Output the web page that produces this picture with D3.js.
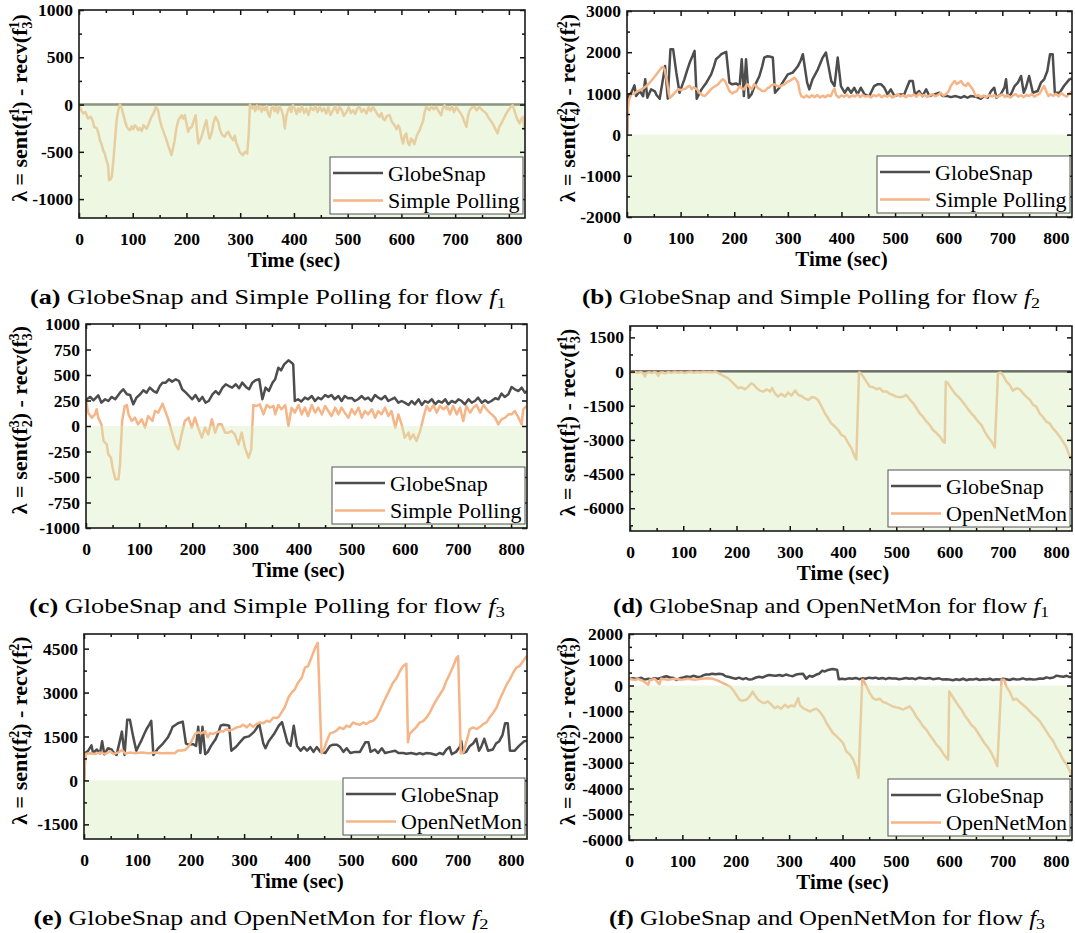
<!DOCTYPE html>
<html><head><meta charset="utf-8">
<script src="https://cdn.jsdelivr.net/npm/d3@7"></script>
<style>body{margin:0;background:#fff}svg{display:block}</style>
</head><body>
<svg id="chart" width="1075" height="933"></svg>
<script>
// ---------------- data ----------------
const xTicks = [0,100,200,300,400,500,600,700,800];
const xMinor = [50,150,250,350,450,550,650,750];
const seriesNamesSP = ["GlobeSnap","Simple Polling"];
const seriesNamesONM = ["GlobeSnap","OpenNetMon"];

// GlobeSnap for flow f1: flat zero
const GS_F1 = [[0,0],[830,0]];

// GlobeSnap flow f2 (panels b and e)
const GS_F2 = [[0,0],[2,935],[8,1016],[14,1195],[17,935],[24,1057],[30,930],[34,1341],[38,894],[45,1098],[52,1050],[55,960],[61,870],[67,1341],[71,1667],[76,870],[81,2073],[86,2073],[92,1504],[98,1016],[103,1200],[107,1341],[112,1550],[117,1748],[122,1900],[126,2033],[130,870],[135,1000],[139,1098],[148,1260],[157,1463],[162,1650],[166,1829],[172,1900],[176,1951],[185,2008],[191,1260],[196,1220],[204,1240],[210,1179],[214,1829],[218,935],[222,1829],[227,894],[232,975],[238,1179],[247,1423],[252,1650],[256,1870],[261,1900],[266,1894],[272,1870],[276,1016],[285,1150],[294,1341],[300,1463],[309,1504],[315,1600],[319,1667],[324,1800],[328,1951],[336,1260],[340,1098],[346,1341],[356,1585],[365,1870],[371,1992],[376,1650],[381,1301],[387,1179],[393,1870],[399,1179],[406,1016],[412,1138],[418,1016],[424,1138],[430,975],[436,1138],[443,975],[452,935],[461,1179],[467,1220],[474,1220],[480,1138],[486,975],[492,1098],[499,935],[508,975],[517,975],[527,1301],[533,1301],[537,975],[545,1057],[551,935],[558,1098],[564,935],[573,975],[583,1016],[589,935],[598,935],[604,910],[613,935],[623,894],[629,935],[635,894],[641,935],[650,920],[660,870],[666,935],[673,894],[679,1057],[685,1138],[689,894],[697,975],[704,1138],[707,1341],[710,935],[716,975],[723,1179],[729,1260],[735,1423],[740,1016],[744,1138],[750,1423],[757,1016],[766,1057],[772,1260],[778,1341],[784,1545],[789,1951],[794,1951],[798,1016],[807,1016],[815,1179],[825,1341],[830,1360]];

// GlobeSnap flow f3 (panels c and f)
const GS_F3 = [[0,250],[1,262],[8,285],[14,252],[23,301],[29,229],[36,262],[42,245],[48,285],[55,262],[64,327],[70,360],[77,311],[83,304],[89,213],[95,278],[102,311],[108,350],[114,327],[120,376],[127,343],[133,327],[139,392],[144,425],[150,425],[156,458],[162,435],[169,458],[175,441],[181,360],[188,327],[194,294],[200,262],[206,304],[213,245],[219,285],[225,229],[231,245],[238,311],[244,343],[250,311],[257,376],[263,409],[269,392],[275,376],[282,409],[288,370],[294,425],[301,383],[307,360],[313,425],[319,448],[326,458],[332,262],[338,376],[344,343],[351,425],[356,458],[362,572],[367,546],[373,605],[381,644],[387,621],[390,605],[393,245],[399,262],[405,240],[412,278],[418,262],[425,294],[431,245],[437,278],[443,262],[450,304],[456,285],[462,304],[468,262],[475,294],[481,245],[487,294],[493,272],[500,275],[506,245],[512,262],[519,294],[525,262],[531,278],[537,245],[544,304],[550,278],[556,262],[563,294],[569,245],[575,262],[581,278],[588,229],[594,245],[600,229],[607,206],[613,245],[619,213],[626,262],[632,206],[638,245],[644,229],[651,262],[657,213],[663,245],[670,229],[676,262],[682,213],[688,245],[695,229],[701,262],[707,245],[713,213],[720,262],[726,229],[732,245],[738,278],[745,229],[751,252],[757,229],[763,245],[770,272],[776,262],[782,317],[788,285],[795,311],[801,383],[807,360],[814,343],[820,376],[826,327],[830,343]];

// Simple Polling flow f1 (panel a)
const SP_F1 = [[0,0],[4,-60],[8,-95],[12,-80],[17,-148],[22,-130],[26,-180],[28,-236],[33,-250],[36,-300],[39,-377],[42,-420],[45,-482],[48,-520],[51,-588],[54,-640],[56,-800],[59,-790],[61,-764],[64,-588],[67,-380],[70,-165],[73,-60],[76,0],[79,-30],[82,-95],[86,-180],[89,-236],[92,-260],[95,-271],[98,-230],[101,-260],[104,-220],[107,-236],[110,-270],[113,-250],[117,-280],[120,-218],[123,-240],[126,-253],[130,-200],[135,-130],[139,-90],[143,-25],[147,-60],[150,-150],[154,-236],[158,-300],[163,-377],[167,-450],[172,-535],[175,-460],[178,-377],[181,-260],[185,-165],[188,-140],[191,-113],[194,-150],[197,-113],[200,-200],[203,-289],[206,-250],[210,-236],[213,-180],[217,-113],[220,-300],[222,-412],[225,-380],[228,-341],[232,-260],[237,-165],[240,-280],[243,-359],[247,-300],[250,-200],[254,-130],[257,-160],[259,-183],[262,-260],[265,-306],[268,-330],[271,-341],[275,-300],[278,-289],[282,-340],[287,-377],[290,-330],[293,-412],[296,-450],[299,-500],[302,-520],[305,-535],[309,-500],[313,-517],[316,-300],[318,0],[322,-40],[325,-20],[328,-70],[331,-10],[334,-50],[337,-20],[340,-75],[343,-30],[346,-60],[349,-15],[352,-100],[355,-130],[358,-40],[361,-20],[364,-70],[367,-30],[370,-90],[373,-20],[377,-60],[380,-120],[383,-253],[386,-120],[389,-60],[392,-30],[395,-80],[398,-7],[402,-50],[405,-100],[408,-40],[411,-77],[415,-20],[419,-90],[423,-42],[427,-110],[431,-30],[436,-60],[440,-20],[444,-80],[448,-25],[452,-70],[456,-40],[460,-95],[464,-30],[468,-110],[473,-60],[477,-20],[481,-90],[485,-25],[489,-60],[493,-120],[498,-77],[502,-30],[506,-90],[510,-60],[514,-100],[518,-40],[522,-25],[526,-80],[530,-50],[535,-95],[539,-30],[543,-70],[547,-25],[551,-60],[555,-100],[559,-130],[563,-90],[566,-150],[569,-165],[573,-120],[578,-113],[582,-180],[587,-218],[591,-260],[594,-220],[597,-253],[600,-350],[603,-412],[606,-330],[609,-306],[612,-400],[615,-430],[618,-360],[621,-377],[624,-420],[628,-341],[631,-300],[634,-271],[637,-220],[640,-183],[643,-90],[646,-25],[649,-40],[652,-60],[656,-20],[660,-50],[665,-25],[669,-70],[674,-113],[677,-40],[680,-7],[684,-50],[687,-30],[690,-60],[694,-20],[698,-80],[702,-25],[706,-60],[710,-90],[714,-130],[717,-180],[721,-236],[724,-120],[727,-60],[731,-30],[736,-25],[740,-60],[745,-25],[749,-50],[753,-70],[758,-95],[762,-140],[766,-170],[770,-200],[774,-250],[779,-306],[782,-240],[786,-200],[789,-165],[792,-130],[795,-95],[799,-60],[803,-30],[807,-7],[810,-60],[813,-113],[816,-160],[820,-200],[823,-150],[826,-130],[829,-271]];

// Simple Polling flow f2 (panel b)
const SP_F2 = [[0,0],[2,700],[4,850],[8,975],[14,1000],[20,1057],[27,1098],[32,1140],[36,1179],[41,1240],[45,1301],[50,1380],[55,1463],[60,1550],[64,1626],[67,1640],[70,1585],[73,1400],[75,1260],[78,1000],[80,894],[84,940],[88,1000],[92,1057],[96,1100],[100,1080],[105,1100],[110,1120],[114,1170],[117,1179],[121,1100],[124,1150],[128,1120],[132,1080],[135,1016],[140,960],[145,935],[150,1000],[155,1080],[160,1138],[165,1180],[170,1220],[175,1300],[179,1341],[183,1300],[187,1180],[191,1057],[196,1000],[200,1030],[205,1057],[210,1179],[214,1120],[218,1098],[222,1180],[225,1220],[229,1150],[233,1098],[237,1220],[241,1180],[244,1130],[248,1100],[252,1060],[257,1057],[262,1130],[266,1150],[270,1200],[275,1220],[280,1180],[285,1165],[290,1200],[294,1220],[299,1280],[303,1301],[308,1340],[312,1382],[316,1330],[319,1260],[322,1050],[325,935],[330,900],[335,950],[340,900],[345,955],[350,910],[355,960],[360,900],[365,945],[370,905],[375,960],[380,930],[384,1050],[387,1114],[390,960],[395,900],[400,950],[405,920],[410,970],[415,905],[420,950],[425,925],[430,975],[435,910],[440,960],[445,920],[450,945],[455,900],[460,960],[465,930],[470,975],[475,905],[480,950],[485,920],[490,960],[495,900],[500,940],[505,985],[510,925],[515,960],[520,905],[525,955],[530,935],[535,975],[540,920],[545,1000],[550,940],[555,960],[560,915],[565,950],[570,985],[575,930],[580,960],[585,1010],[590,945],[595,980],[600,1050],[604,1179],[608,1250],[611,1301],[615,1230],[619,1260],[623,1301],[627,1220],[632,1179],[636,1250],[640,1180],[645,1098],[648,1010],[651,935],[655,960],[660,910],[665,945],[670,900],[675,960],[680,925],[685,955],[690,905],[695,945],[700,975],[705,915],[710,960],[715,900],[720,950],[725,980],[730,920],[735,955],[740,910],[745,965],[750,935],[755,985],[760,920],[765,960],[770,1000],[774,1100],[778,1179],[782,1050],[786,935],[790,980],[795,940],[800,990],[805,930],[810,1010],[815,955],[820,920],[825,1000],[830,1057]];

// Simple Polling flow f3 (panel c)
const SP_F3 = [[0,240],[1,229],[4,131],[11,82],[17,114],[20,164],[23,82],[29,16],[33,-147],[39,-180],[42,-278],[47,-311],[50,-409],[53,-474],[55,-523],[61,-523],[64,-376],[68,49],[73,196],[77,206],[80,114],[86,49],[92,82],[98,16],[105,65],[111,-16],[117,98],[125,49],[130,147],[136,131],[144,219],[149,147],[155,65],[161,-49],[168,-180],[174,-229],[180,-82],[186,49],[193,82],[199,-16],[205,82],[211,-16],[218,-114],[224,-16],[230,-82],[237,65],[243,-65],[249,16],[255,16],[262,-65],[268,-65],[274,-49],[280,-82],[287,-180],[293,-65],[299,-212],[306,-311],[311,-229],[315,206],[321,196],[327,213],[334,114],[340,206],[346,180],[353,196],[356,114],[362,206],[368,164],[375,206],[381,0],[387,180],[393,131],[400,206],[406,114],[412,180],[418,98],[425,206],[431,131],[437,180],[444,114],[450,196],[456,147],[462,98],[469,180],[475,114],[481,180],[487,131],[494,82],[500,164],[506,114],[513,180],[519,82],[525,147],[531,114],[538,164],[544,82],[550,147],[556,114],[563,180],[569,98],[575,147],[582,-16],[588,114],[594,16],[600,-114],[607,-65],[610,-131],[616,-82],[622,-147],[629,-49],[635,82],[641,196],[647,147],[654,206],[660,131],[666,196],[673,164],[679,196],[685,114],[691,196],[698,114],[704,180],[710,49],[716,196],[723,131],[729,180],[735,206],[742,131],[748,206],[754,164],[760,131],[770,82],[776,16],[782,65],[789,82],[795,114],[801,114],[807,147],[814,82],[820,16],[823,164],[829,196]];

// OpenNetMon flow f1 (panel d)
const ONM_F1 = [[0,0],[5,-40],[10,-20],[15,-60],[20,-10],[25,-80],[28,-220],[31,-60],[36,-30],[41,-70],[46,-20],[50,-60],[53,-190],[56,-50],[61,-30],[66,-80],[72,-20],[78,-60],[84,-10],[90,-50],[96,-20],[102,-60],[108,-30],[114,-10],[120,-50],[126,-20],[132,-40],[138,-10],[144,-30],[150,-20],[155,-40],[160,0],[166,-70],[172,-147],[178,-220],[184,-293],[191,-440],[197,-586],[203,-733],[209,-690],[216,-780],[222,-660],[228,-513],[233,-590],[238,-733],[244,-836],[250,-880],[257,-780],[263,-880],[267,-730],[272,-953],[278,-1100],[284,-980],[291,-1100],[297,-920],[303,-1060],[310,-836],[316,-1030],[322,-1070],[328,-1173],[335,-1246],[341,-1130],[347,-1140],[353,-1246],[360,-1539],[366,-1832],[372,-2052],[378,-2272],[385,-2419],[391,-2566],[397,-2785],[403,-2860],[410,-3152],[416,-3372],[422,-3738],[425,-3856],[430,-44],[432,-44],[438,-220],[444,-440],[450,-660],[457,-690],[463,-777],[469,-730],[475,-880],[482,-880],[488,-982],[494,-1030],[500,-1100],[507,-1130],[513,-1100],[519,-1026],[525,-1217],[532,-1393],[538,-1613],[544,-1832],[550,-1980],[557,-2199],[563,-2350],[569,-2566],[576,-2710],[582,-2859],[588,-3079],[591,-3123],[593,-440],[597,-510],[603,-733],[610,-953],[616,-1100],[622,-1246],[629,-1466],[635,-1660],[641,-1832],[647,-1980],[654,-2199],[660,-2350],[666,-2639],[672,-2860],[679,-3079],[685,-3328],[691,-73],[696,-44],[700,-147],[707,-440],[713,-586],[719,-836],[726,-730],[732,-780],[738,-953],[744,-1100],[751,-1246],[757,-1466],[763,-1540],[769,-1832],[775,-1980],[782,-2199],[788,-2270],[794,-2492],[800,-2640],[807,-2859],[813,-3079],[819,-3298],[826,-3738],[829,-3856]];

// OpenNetMon flow f2 (panel e)
const ONM_F2 = [[0,0],[3,906],[11,930],[21,906],[30,950],[40,906],[49,996],[55,906],[64,950],[71,1041],[77,920],[86,950],[96,928],[108,950],[121,928],[133,950],[146,928],[158,940],[170,928],[176,1020],[183,1020],[189,1041],[195,1132],[202,1358],[208,1585],[214,1641],[220,1610],[227,1675],[232,1472],[236,1610],[242,1585],[248,1641],[255,1675],[261,1675],[267,1755],[273,1700],[280,1755],[286,1811],[292,1830],[298,1902],[305,1811],[311,1924],[317,1830],[323,1924],[330,1981],[336,1950],[342,2038],[348,2000],[355,2151],[361,2130],[365,2173],[370,2321],[376,2490],[383,2830],[389,3000],[395,3113],[401,3339],[408,3509],[414,3849],[420,3905],[426,4188],[433,4528],[438,4698],[445,928],[450,1080],[454,1302],[461,1607],[467,1641],[473,1698],[479,1811],[486,1755],[492,1868],[498,1830],[504,1981],[511,1924],[517,1902],[523,1981],[529,1924],[536,2015],[542,2038],[548,2151],[554,2377],[561,2660],[567,2887],[573,3113],[579,3339],[586,3509],[592,3736],[598,3905],[604,3985],[607,1302],[610,1585],[617,1721],[623,1830],[629,1981],[635,2015],[642,2151],[648,2321],[654,2547],[660,2739],[667,2943],[673,3113],[679,3396],[685,3622],[692,3905],[698,4188],[701,4245],[706,928],[711,960],[717,1358],[723,1755],[729,1811],[736,1755],[742,1830],[748,1924],[754,1981],[760,2151],[767,2321],[773,2490],[779,2773],[785,3000],[792,3283],[798,3453],[804,3679],[810,3849],[816,3905],[823,4075],[829,4245]];

// OpenNetMon flow f3 (panel f)
const ONM_F3 = [[0,258],[11,219],[17,258],[26,180],[36,26],[39,219],[48,258],[57,52],[60,258],[73,219],[85,258],[98,219],[110,258],[123,219],[135,258],[148,284],[157,258],[163,219],[170,155],[176,90],[183,26],[189,-39],[195,-168],[201,-361],[207,-555],[213,-593],[220,-555],[226,-426],[232,-232],[235,-361],[242,-555],[248,-645],[254,-680],[260,-619],[267,-748],[273,-877],[279,-813],[285,-903],[292,-748],[298,-851],[304,-774],[310,-813],[317,-490],[320,-748],[326,-877],[332,-942],[339,-1006],[345,-942],[351,-903],[357,-1006],[364,-1200],[370,-1458],[376,-1651],[382,-1845],[389,-1974],[395,-2103],[401,-2232],[407,-2554],[414,-2683],[420,-2877],[426,-3199],[430,-3586],[437,219],[439,219],[445,-39],[451,-297],[457,-490],[463,-555],[470,-516],[476,-645],[482,-680],[488,-748],[494,-813],[501,-851],[507,-877],[513,-942],[519,-877],[526,-813],[532,-980],[538,-1200],[545,-1393],[551,-1587],[557,-1716],[563,-1909],[570,-2103],[576,-2296],[582,-2425],[588,-2619],[595,-2812],[598,-2877],[600,-232],[604,-361],[610,-555],[617,-774],[623,-942],[629,-1161],[635,-1329],[641,-1522],[648,-1651],[654,-1845],[660,-2038],[666,-2232],[673,-2425],[679,-2619],[685,-2877],[690,-3135],[698,219],[703,219],[707,-39],[713,-232],[720,-555],[726,-516],[732,-645],[738,-748],[744,-851],[751,-1006],[757,-1135],[763,-1238],[770,-1393],[776,-1587],[782,-1780],[788,-1974],[795,-2167],[801,-2425],[807,-2619],[813,-2877],[820,-3070],[826,-3328],[830,-3522]];

// y tick values per panel
const yTicksA = [-1000,-500,0,500,1000], yMinorA = [-750,-250,250,750];
const yTicksB = [-2000,-1000,0,1000,2000,3000], yMinorB = [-1500,-500,500,1500,2500];
const yTicksC = [-1000,-750,-500,-250,0,250,500,750,1000], yMinorC = [];
const yTicksD = [-6000,-4500,-3000,-1500,0,1500], yMinorD = [-6750,-5250,-3750,-2250,-750,750];
const yTicksE = [-1500,0,1500,3000,4500], yMinorE = [-750,750,2250,3750];
const yTicksF = [-6000,-5000,-4000,-3000,-2000,-1000,0,1000,2000], yMinorF = [-5500,-4500,-3500,-2500,-1500,-500,500,1500];

// ---------------- layout ----------------
const COL_GS = "#4d4d4d", COL_OR = "#f5b587";
const panels = [
  {tag:"(a)", L:79,  R:525,  T:10,  B:218, yd:[-1200,1000], yt:yTicksA, ym:yMinorA, s:[GS_F1,SP_F1], names:seriesNamesSP, lab:["1","1","3"], cap:" GlobeSnap and Simple Polling for flow ", flow:"1", capX:268, capY:304, capW:476, ylx:27, ov:1.6, ovOp:0.45},
  {tag:"(b)", L:627, R:1072, T:11,  B:217, yd:[-2000,3000], yt:yTicksB, ym:yMinorB, s:[GS_F2,SP_F2], names:seriesNamesSP, lab:["2","4","1"], cap:" GlobeSnap and Simple Polling for flow ", flow:"2", capX:811, capY:304, capW:458, ylx:575, ov:0, ovOp:0.45},
  {tag:"(c)", L:86,  R:527,  T:324, B:528, yd:[-1000,1000], yt:yTicksC, ym:yMinorC, s:[GS_F3,SP_F3], names:seriesNamesSP, lab:["3","2","3"], cap:" GlobeSnap and Simple Polling for flow ", flow:"3", capX:267, capY:613, capW:476, ylx:27, ov:0, ovOp:0.4},
  {tag:"(d)", L:630, R:1072, T:326, B:531, yd:[-7000,2000], yt:yTicksD, ym:yMinorD, s:[GS_F1,ONM_F1], names:seriesNamesONM, lab:["1","1","3"], cap:" GlobeSnap and OpenNetMon for flow ", flow:"1", capX:831, capY:613, capW:436, ylx:575, ov:0, ovOp:0.45},
  {tag:"(e)", L:84,  R:527,  T:634, B:839, yd:[-2000,5000], yt:yTicksE, ym:yMinorE, s:[GS_F2,ONM_F2], names:seriesNamesONM, lab:["2","4","1"], cap:" GlobeSnap and OpenNetMon for flow ", flow:"2", capX:261, capY:925, capW:455, ylx:27, ov:0, ovOp:0.45},
  {tag:"(f)", L:629, R:1072, T:634, B:840, yd:[-6000,2000], yt:yTicksF, ym:yMinorF, s:[GS_F3,ONM_F3], names:seriesNamesONM, lab:["3","2","3"], cap:" GlobeSnap and OpenNetMon for flow ", flow:"3", capX:827, capY:925, capW:436, ylx:575, ov:0, ovOp:0.45}
];

const svg = d3.select("#chart");
const FONT = "'Liberation Serif','Times New Roman',serif";

panels.forEach((p, i) => {
  const x = d3.scaleLinear().domain([0, 830]).range([p.L, p.R]);
  const y = d3.scaleLinear().domain(p.yd).range([p.B, p.T]);
  const g = svg.append("g");
  const clipId = "clip" + i;
  g.append("clipPath").attr("id", clipId).append("rect")
    .attr("x", p.L).attr("y", p.T).attr("width", p.R - p.L).attr("height", p.B - p.T);

  // lines
  const line = d3.line().x(d => x(d[0])).y(d => y(d[1]));
  const cols = [COL_GS, COL_OR];
  p.s.forEach((ser, k) => {
    g.append("path").datum(ser).attr("d", line)
      .attr("clip-path", `url(#${clipId})`)
      .attr("fill", "none").attr("stroke", cols[k]).attr("stroke-width", 2.5)
      .attr("stroke-linejoin", "round");
  });

  // green region below zero (translucent overlay)
  const y0 = y(0) - p.ov;
  g.append("rect").attr("x", p.L).attr("y", y0).attr("width", p.R - p.L).attr("height", p.B - y0)
    .attr("fill", "rgb(214,237,190)").attr("fill-opacity", p.ovOp);

  // axes: bottom with labels, top mirror
  const fmt = d => String(d);
  const axB = g.append("g").attr("transform", `translate(0,${p.B})`)
    .call(d3.axisBottom(x).tickValues(xTicks).tickSizeInner(-5).tickSizeOuter(0).tickPadding(15).tickFormat(fmt));
  const axBm = g.append("g").attr("transform", `translate(0,${p.B})`)
    .call(d3.axisBottom(x).tickValues(xMinor).tickSizeInner(-3).tickSizeOuter(0).tickFormat(""));
  const axT = g.append("g").attr("transform", `translate(0,${p.T})`)
    .call(d3.axisTop(x).tickValues(xTicks).tickSizeInner(-5).tickSizeOuter(0).tickFormat(""));
  const axTm = g.append("g").attr("transform", `translate(0,${p.T})`)
    .call(d3.axisTop(x).tickValues(xMinor).tickSizeInner(-3).tickSizeOuter(0).tickFormat(""));
  const axL = g.append("g").attr("transform", `translate(${p.L},0)`)
    .call(d3.axisLeft(y).tickValues(p.yt).tickSizeInner(-5).tickSizeOuter(0).tickPadding(6).tickFormat(fmt));
  const axLm = g.append("g").attr("transform", `translate(${p.L},0)`)
    .call(d3.axisLeft(y).tickValues(p.ym).tickSizeInner(-3).tickSizeOuter(0).tickFormat(""));
  const axR = g.append("g").attr("transform", `translate(${p.R},0)`)
    .call(d3.axisRight(y).tickValues(p.yt).tickSizeInner(-5).tickSizeOuter(0).tickFormat(""));
  const axRm = g.append("g").attr("transform", `translate(${p.R},0)`)
    .call(d3.axisRight(y).tickValues(p.ym).tickSizeInner(-3).tickSizeOuter(0).tickFormat(""));
  [axB, axBm, axT, axTm, axL, axLm, axR, axRm].forEach(a => {
    a.select(".domain").remove();
    a.selectAll("line").attr("stroke", "#111").attr("stroke-width", 1.5);
    a.selectAll("text").attr("fill", "#000").style("font-family", FONT)
      .style("font-weight", "bold").style("font-size", "17.5px");
  });

  // frame
  g.append("rect").attr("x", p.L).attr("y", p.T).attr("width", p.R - p.L).attr("height", p.B - p.T)
    .attr("fill", "none").attr("stroke", "#1a1a1a").attr("stroke-width", 1.6);

  // legend
  const lw = p.names[1] === "Simple Polling" ? 193 : 182;
  const lh = 57;
  const lx = p.R - 2 - lw, ly = p.B - 4 - lh;
  const lg = g.append("g");
  lg.append("rect").attr("x", lx).attr("y", ly).attr("width", lw).attr("height", lh)
    .attr("fill", "#fff").attr("stroke", "#555").attr("stroke-width", 1);
  p.names.forEach((nm, k) => {
    const yy = ly + 16 + k * 27.5;
    lg.append("line").attr("x1", lx + 3).attr("x2", lx + 53).attr("y1", yy).attr("y2", yy)
      .attr("stroke", cols[k]).attr("stroke-width", 2.6);
    lg.append("text").attr("x", lx + 58).attr("y", yy + 7.5).text(nm)
      .style("font-family", FONT).style("font-size", "22px").attr("fill", "#000");
  });

  // x-axis title
  g.append("text").attr("x", (p.L + p.R) / 2 - 8).attr("y", p.B + 49)
    .attr("text-anchor", "middle").style("font-family", FONT).style("font-weight", "bold")
    .style("font-size", "21px").text("Time (sec)");

  // y-axis title (rotated)
  const yt = g.append("text")
    .attr("transform", `translate(${p.ylx},${(p.T + p.B) / 2 - 6}) rotate(-90)`)
    .attr("text-anchor", "middle").style("font-family", FONT).style("font-weight", "bold")
    .style("font-size", "22px");
  yt.append("tspan").text("λ = sent(f");
  yt.append("tspan").attr("dy", -8).style("font-size", "14px").text(p.lab[0]);
  yt.append("tspan").attr("dx", -7).attr("dy", 13).style("font-size", "14px").text(p.lab[1]);
  yt.append("tspan").attr("dy", -5).text(") - recv(f");
  yt.append("tspan").attr("dy", -8).style("font-size", "14px").text(p.lab[0]);
  yt.append("tspan").attr("dx", -7).attr("dy", 13).style("font-size", "14px").text(p.lab[2]);
  yt.append("tspan").attr("dy", -5).text(")");

  // caption
  const c = svg.append("text").attr("x", p.capX).attr("y", p.capY).attr("text-anchor", "middle")
    .attr("textLength", p.capW).attr("lengthAdjust", "spacingAndGlyphs")
    .style("font-family", FONT).style("font-size", "21px").attr("fill", "#000");
  c.append("tspan").style("font-weight", "bold").text(p.tag);
  c.append("tspan").text(p.cap);
  c.append("tspan").style("font-style", "italic").text("f");
  c.append("tspan").attr("dy", 4).style("font-size", "15px").text(p.flow);
});
</script>
</body></html>
